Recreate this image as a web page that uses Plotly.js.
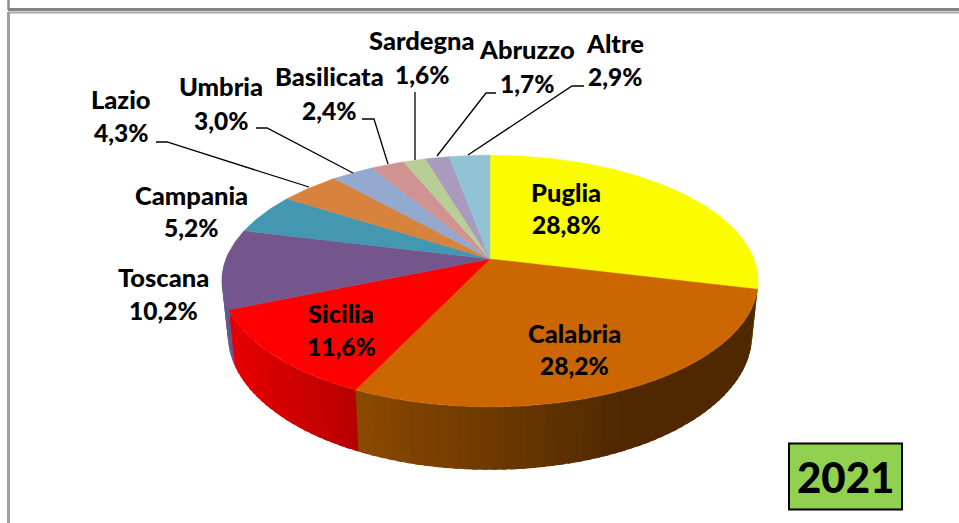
<!DOCTYPE html>
<html>
<head>
<meta charset="utf-8">
<script src="https://cdn.plot.ly/plotly-3.0.1.min.js"></script>
<style>html,body{margin:0;padding:0;background:#fff;overflow:hidden}#chart{width:959px;height:523px}</style>
</head>
<body>
<div id="chart"></div>
<script>
// ---- data ----
const regions = ['Puglia','Calabria','Sicilia','Toscana','Campania','Lazio','Umbria','Basilicata','Sardegna','Abruzzo','Altre'];
const shares  = [28.8,28.2,11.6,10.2,5.2,4.3,3.0,2.4,1.6,1.7,2.9];
const yearLabel = '2021';

// ---- styles and label placement ----
const sliceColors = ['#fcfc00','#cc6600','#ff0000','#75568c','#4397b0','#d8833d','#93a9cf','#d19392','#b9cd96','#a99bbd','#92c3d4'];
const labelX     = [566,574,341,163,191,121,221,329,422,527,615];
const labelNameY = [192,333,313,277,195,99,86,76,40,49,43];
const labelPctY  = [224,365,346,310,227,132,120,110,74,83,76];
const leaderX = {Lazio:[156,167,309],Umbria:[256,267,353],Basilicata:[362,374,388],Sardegna:[415,415],Abruzzo:[496,486,437],Altre:[584,572,468]};
const leaderY = {Lazio:[142,142,187],Umbria:[128,128,173],Basilicata:[119,119,164],Sardegna:[92,160],Abruzzo:[93,93,156],Altre:[86,86,155]};

// ---- tilted-disc projection (perspective) ----
const CX=490, CY=259, AX=264, BY=122, K=0.175;
function discTop(f){const t=2*Math.PI*f,u=Math.sin(t),v=Math.cos(t),w=1+K*v;return [CX+AX*u/w,CY-BY*v/w];}
function discBottom(f){const p=discTop(f);return [CX+(p[0]-CX)*0.9776,335+(p[1]-281)*1.071];}
function mix(a,b,t){t=Math.max(0,Math.min(1,t));const r=i=>Math.round(a[i]+(b[i]-a[i])*t);return `rgb(${r(0)},${r(1)},${r(2)})`;}
function sideColor(name,x){
  if(name==='Calabria') return mix([140,74,0],[79,40,0],(x-356)/(625-356));
  if(name==='Sicilia')  return mix([230,0,0],[184,0,0],(x-235)/(356-235));
  if(name==='Toscana')  return 'rgb(96,90,144)';
  return 'rgb(160,150,0)';
}

const total = shares.reduce((a,b)=>a+b,0);
const traces = [];
let cum = 0;
const bounds = shares.map(s=>{const r=[cum/total,(cum+s)/total];cum+=s;return r;});

// side wall strips: each one reaches under the next so no seams show
regions.forEach((name,i)=>{
  const s=Math.max(bounds[i][0],0.275), e=Math.min(bounds[i][1],0.76);
  if(e<=s) return;
  const n=Math.max(1,Math.ceil((e-s)/0.005));
  const step=(e-s)/n;
  for(let j=0;j<n;j++){
    const a=s+step*j, b=s+step*(j+1)+step*0.6;
    const p=discTop(a),q=discTop((a+b)/2),t=discTop(b),r=discBottom(b),m=discBottom((a+b)/2),o=discBottom(a);
    const c=sideColor(name,(o[0]+m[0])/2);
    traces.push({type:'scatter',mode:'lines',x:[p[0],q[0],t[0],r[0],m[0],o[0],p[0]],y:[p[1],q[1],t[1],r[1],m[1],o[1],p[1]],
      fill:'toself',fillcolor:c,line:{width:0},hoverinfo:'skip',showlegend:false});
  }
});
// top faces
regions.forEach((name,i)=>{
  const xs=[CX],ys=[CY];
  const n=Math.ceil((bounds[i][1]-bounds[i][0])/0.002);
  for(let j=0;j<=n;j++){
    const p=discTop(bounds[i][0]+(bounds[i][1]-bounds[i][0])*j/n);
    xs.push(p[0]);ys.push(p[1]);
  }
  xs.push(CX);ys.push(CY);
  traces.push({type:'scatter',mode:'lines',name:name,x:xs,y:ys,fill:'toself',fillcolor:sliceColors[i],
    line:{color:sliceColors[i],width:0.5},hoverinfo:'name',showlegend:false});
});
// leader lines
Object.keys(leaderX).forEach(k=>{
  traces.push({type:'scatter',mode:'lines',x:leaderX[k],y:leaderY[k],line:{color:'#000',width:1.3},hoverinfo:'skip',showlegend:false});
});

const FONT='Lato, Carlito, sans-serif';
const annotations=[];
regions.forEach((name,i)=>{
  annotations.push({x:labelX[i],y:labelNameY[i],xref:'x',yref:'y',text:name,showarrow:false,xanchor:'center',yanchor:'middle',font:{family:FONT,size:25.5,weight:900,color:'#000'}});
  annotations.push({x:labelX[i],y:labelPctY[i],xref:'x',yref:'y',text:shares[i].toFixed(1).replace('.',',')+'%',showarrow:false,xanchor:'center',yanchor:'middle',font:{family:FONT,size:24.5,weight:900,color:'#000'}});
});
annotations.push({x:845,y:477,xref:'x',yref:'y',text:yearLabel,showarrow:false,xanchor:'center',yanchor:'middle',font:{family:FONT,size:42,weight:900,color:'#000'}});

const frame=(x0,y0,x1,y1,c,w)=>({type:'line',xref:'x',yref:'y',x0,y0,x1,y1,line:{color:c,width:w},layer:'below'});
const shapes=[
  frame(8.5,0,8.5,10,'#8a8a8a',2.5),
  frame(8,9.5,959,9.5,'#858585',3),
  frame(8,12.5,959,12.5,'#a8a8a8',2),
  frame(8.5,12,8.5,523,'#a0a0a0',3),
  {type:'rect',xref:'x',yref:'y',x0:789,y0:443.5,x1:902,y1:509.5,fillcolor:'#92d050',line:{color:'#000',width:2}}
];

Plotly.newPlot('chart',traces,{
  width:959,height:523,margin:{l:0,r:0,t:0,b:0},
  paper_bgcolor:'#fff',plot_bgcolor:'#fff',showlegend:false,
  xaxis:{range:[0,959],visible:false,fixedrange:true},
  yaxis:{range:[523,0],visible:false,fixedrange:true},
  shapes,annotations
},{displayModeBar:false,staticPlot:true});
</script>
</body>
</html>
